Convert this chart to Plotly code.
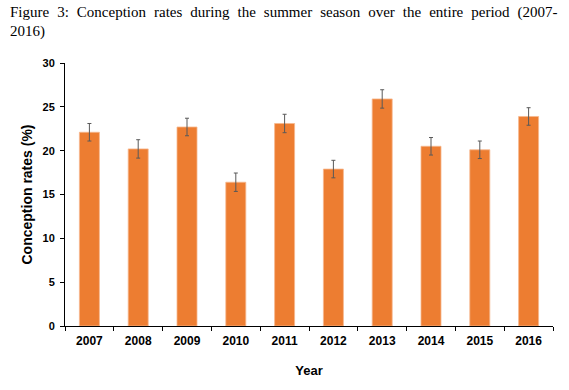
import plotly.graph_objects as go

years = ["2007", "2008", "2009", "2010", "2011", "2012", "2013", "2014", "2015", "2016"]
rates = [22.1, 20.2, 22.7, 16.4, 23.1, 17.9, 25.9, 20.5, 20.1, 23.9]
errors = [1.0, 1.05, 1.0, 1.05, 1.05, 1.0, 1.05, 1.0, 1.0, 1.0]
y_ticks = [0, 5, 10, 15, 20, 25, 30]

title_words = ["Figure", "3:", "Conception", "rates", "during", "the", "summer",
               "season", "over", "the", "entire", "period", "(2007-"]
title_line2 = "2016)"

fig = go.Figure()
fig.add_trace(go.Bar(
    x=years, y=rates,
    marker=dict(color="#ED7D31", line=dict(color="#F6B88E", width=0.8)),
    width=0.41,
    error_y=dict(type="data", array=errors, visible=True, color="#595959", thickness=1, width=2),
))

fig.update_layout(
    width=569, height=390,
    margin=dict(l=65, r=16, t=63, b=64),
    paper_bgcolor="white", plot_bgcolor="white",
    showlegend=False,
    font=dict(family="Liberation Sans, Arial, sans-serif", color="black"),
)
fig.update_xaxes(
    showline=True, linecolor="black", linewidth=1,
    ticks="outside", ticklen=4, tickcolor="black", tickson="boundaries",
    tickfont=dict(size=12, weight="bold"), ticklabelstandoff=4,
    title=dict(text="Year", font=dict(size=13, weight="bold"), standoff=18),
    automargin=False,
)
fig.update_yaxes(
    range=[0, 30], tickvals=y_ticks,
    showline=True, linecolor="black", linewidth=1,
    ticks="outside", ticklen=4, tickcolor="black",
    showgrid=False, zeroline=False,
    tickfont=dict(size=11, weight="bold"), ticklabelstandoff=3,
    title=dict(text="Conception rates (%)", font=dict(size=14, weight="bold"), standoff=6),
    automargin=False,
)

title_font = dict(family="Liberation Serif, Times New Roman, serif", size=15, color="black")
fig.add_annotation(
    text=" \u2009\u200a".join(title_words), xref="paper", yref="paper",
    x=-57/488, y=(326 - 12) / 263, xanchor="left", yanchor="middle",
    showarrow=False, font=title_font,
)
fig.add_annotation(
    text=title_line2, xref="paper", yref="paper",
    x=-57/488, y=(326 - 32) / 263, xanchor="left", yanchor="middle",
    showarrow=False, font=title_font,
)

fig.write_html("out.html", config={"displayModeBar": False},
               post_script="document.body.style.margin='0';")
